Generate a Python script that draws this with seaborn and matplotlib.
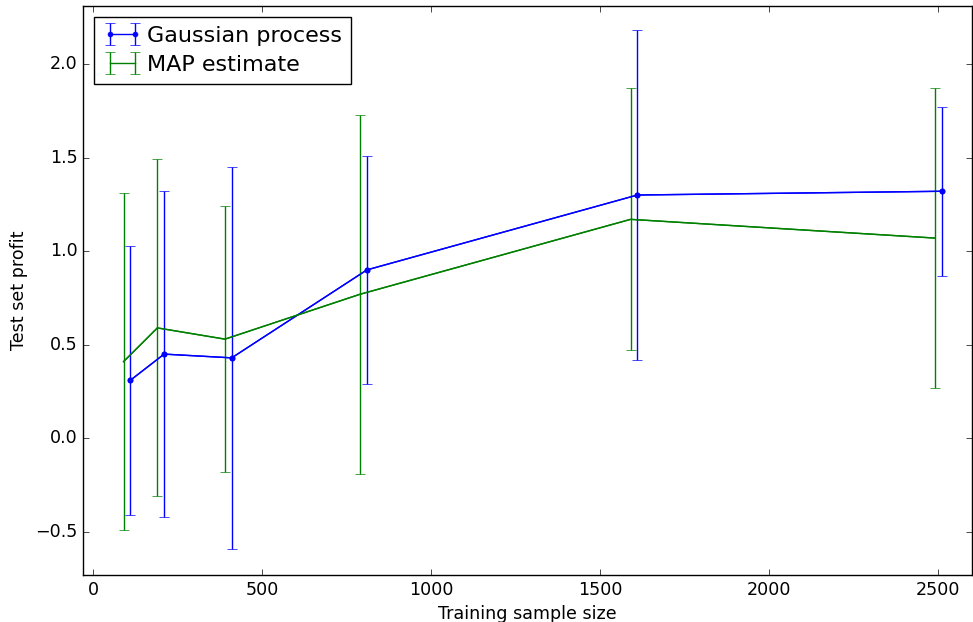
import seaborn as sns
import matplotlib.pyplot as plt
import pandas as pd
import numpy as np

# -------------------------------
# Data
# -------------------------------
gp_x = [110, 210, 410, 810, 1610, 2510]
gp_mean = [0.31, 0.45, 0.43, 0.90, 1.30, 1.32]
gp_err = [0.72, 0.87, 1.02, 0.61, 0.88, 0.45]

map_x = [90, 190, 390, 790, 1590, 2490]
map_mean = [0.41, 0.59, 0.53, 0.77, 1.17, 1.07]
map_err = [0.90, 0.90, 0.71, 0.96, 0.70, 0.80]

gp_df = pd.DataFrame({"size": gp_x, "profit": gp_mean})
map_df = pd.DataFrame({"size": map_x, "profit": map_mean})

# -------------------------------
# Styling (old matplotlib look)
# -------------------------------
sns.set_style("ticks")
plt.style.use("classic")
plt.rcParams["font.family"] = ["DejaVu Sans"]
plt.rcParams["figure.facecolor"] = "white"
plt.rcParams["savefig.facecolor"] = "white"

fig = plt.figure(figsize=(9.73, 6.22), dpi=100)
ax = fig.add_axes([0.0853, 0.0756, 0.9137, 0.9148])

# mean lines
sns.lineplot(data=gp_df, x="size", y="profit", color="b", marker=".",
             markersize=7, markeredgecolor="b", linewidth=1.0,
             legend=False, ax=ax)
sns.lineplot(data=map_df, x="size", y="profit", color="g", linewidth=1.0,
             legend=False, ax=ax)

# error bars (also provide the legend handles)
ax.errorbar(gp_x, gp_mean, yerr=gp_err, fmt=".-", color="b", markersize=7,
            capsize=3.5, linewidth=1.0, label="Gaussian process")
ax.errorbar(map_x, map_mean, yerr=map_err, fmt="-", color="g",
            capsize=3.5, linewidth=1.0, label="MAP estimate")

ax.set_xlim(-30, 2600)
ax.set_ylim(-0.73, 2.31)
ax.set_xticks([0, 500, 1000, 1500, 2000, 2500])
ax.set_yticks([-0.5, 0.0, 0.5, 1.0, 1.5, 2.0])
ax.set_xlabel("Training sample size", fontsize=12.6)
ax.set_ylabel("Test set profit", fontsize=12.6)
ax.tick_params(labelsize=12.6)

ax.legend(loc="upper left", fontsize=16, numpoints=2, handlelength=1.75,
          handletextpad=0.25, labelspacing=0.4)

plt.savefig("out.png", dpi=100)
plt.close()
